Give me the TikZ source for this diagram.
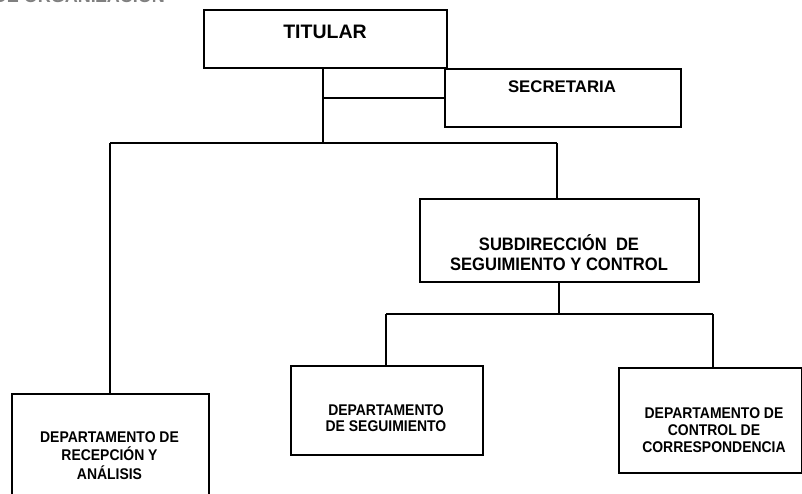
\documentclass[tikz,border=0pt]{standalone}
\usepackage{fontspec}
\setmainfont{Liberation Sans}
\newfontfamily\narrowfont[FakeStretch=0.9]{Liberation Sans}
\newfontfamily\semifont[FakeStretch=0.92]{Liberation Sans}
\begin{document}
\begin{tikzpicture}[x=1pt,y=-1pt,
  box/.style={draw, line width=1.6pt, rectangle, inner sep=0pt, anchor=north west},
  conn/.style={line width=1.6pt},
  lbl/.style={inner sep=0pt, anchor=base},
  big/.style={lbl, font=\fontsize{19.5}{22}\selectfont\bfseries},
  mid/.style={lbl, font=\fontsize{16.8}{19}\selectfont\bfseries},
  sub/.style={lbl, font=\semifont\fontsize{18}{20}\selectfont\bfseries},
  small/.style={lbl, font=\narrowfont\fontsize{15.5}{17}\selectfont\bfseries}]
\clip (0,0) rectangle (802,494);
\fill[white] (0,0) rectangle (802,494);
% header (cut off at the top of the picture)
\node[inner sep=0pt, anchor=base east, text=black!50, font=\fontsize{18}{20}\selectfont\bfseries] (hdr) at (165,3) {DE ORGANIZACIÓN};
% boxes
\node[box, minimum width=243pt, minimum height=58pt] (T) at (203,9) {};
\node[box, minimum width=236pt, minimum height=58pt] (S) at (444,68) {};
\node[box, minimum width=279pt, minimum height=83pt] (SUB) at (419,198) {};
\node[box, minimum width=197pt, minimum height=130pt] (L) at (11,393) {};
\node[box, minimum width=192pt, minimum height=89pt] (M) at (290,365) {};
\node[box, minimum width=183pt, minimum height=105pt] (R) at (618,367) {};
% texts
\node[big] (tT) at (325,39) {TITULAR};
\node[mid] (tS) at (562,93) {SECRETARIA};
\node[sub] (tSUB1) at (559,251) {SUBDIRECCIÓN\ \ DE};
\node[sub] (tSUB2) at (559,270.5) {SEGUIMIENTO Y CONTROL};
\node[small] (tL1) at (109.5,442) {DEPARTAMENTO DE};
\node[small] (tL2) at (109.5,460.5) {RECEPCIÓN Y};
\node[small] (tL3) at (109.5,479) {ANÁLISIS};
\node[small] (tM1) at (386,415) {DEPARTAMENTO};
\node[small] (tM2) at (386,431) {DE SEGUIMIENTO};
\node[small] (tR1) at (714,418) {DEPARTAMENTO DE};
\node[small] (tR2) at (714,435) {CONTROL DE};
\node[small] (tR3) at (714,452) {CORRESPONDENCIA};
% junction points
\coordinate (jT) at (323,143);
\coordinate (jL) at (110,143);
\coordinate (jR) at (557,143);
\coordinate (jS) at (559,314);
\coordinate (jM) at (386,314);
\coordinate (jRR) at (713,314);
% connectors
\draw[conn] (T.south -| jT) -- (jT);
\draw[conn] (jT |- S.west) -- (S.west);
\draw[conn] (jL) -- (jR);
\draw[conn] (jL) -- (L.north -| jL);
\draw[conn] (jR) -- (SUB.north -| jR);
\draw[conn] (SUB.south -| jS) -- (jS);
\draw[conn] (jM) -- (jRR);
\draw[conn] (jM) -- (M.north -| jM);
\draw[conn] (jRR) -- (R.north -| jRR);
\end{tikzpicture}
\end{document}
